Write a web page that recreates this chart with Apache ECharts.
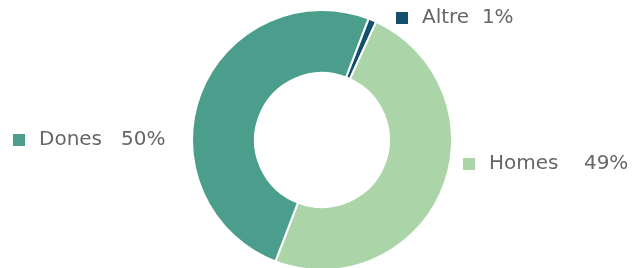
<!DOCTYPE html>
<html>
<head>
<meta charset="utf-8">
<script src="https://cdn.jsdelivr.net/npm/echarts@6/dist/echarts.min.js"></script>
<style>
  html, body { margin: 0; padding: 0; background: #fff; }
  #main { width: 636px; height: 268px; }
</style>
</head>
<body>
<div id="main"></div>
<script>
var categories = ['Altre', 'Homes', 'Dones'];
var values = [1, 49, 50];
var percentLabels = ['1%', '49%', '50%'];
var colors = ['#14506e', '#abd4a8', '#4a9e8b'];
var gaps = ['  ', '    ', '   '];

// where each label sits (left edge of the square, vertical middle)
var labelSpots = [[396, 18], [463, 164], [13, 140]];

var data = categories.map(function (name, i) {
    return {
        name: name,
        value: values[i],
        itemStyle: { color: colors[i] },
        label: {
            formatter: '{m|}{t|' + name + gaps[i] + percentLabels[i] + '}',
            rich: {
                m: { width: 12, height: 12, backgroundColor: colors[i] },
                t: { fontSize: 20, color: '#666666', padding: [0, 0, 0, 14],
                     fontFamily: 'DejaVu Sans' }
            }
        }
    };
});

var option = {
    animation: false,
    series: [{
        type: 'pie',
        center: [322, 140],
        radius: [67, 130],
        startAngle: 69,
        itemStyle: { borderColor: '#ffffff', borderWidth: 2 },
        label: { show: true, position: 'outside', overflow: 'none' },
        labelLine: { show: false },
        labelLayout: function (params) {
            var p = labelSpots[params.dataIndex];
            return { x: p[0], y: p[1], align: 'left', verticalAlign: 'middle' };
        },
        data: data
    }]
};

var myChart = echarts.init(document.getElementById('main'));
myChart.setOption(option);
</script>
</body>
</html>
